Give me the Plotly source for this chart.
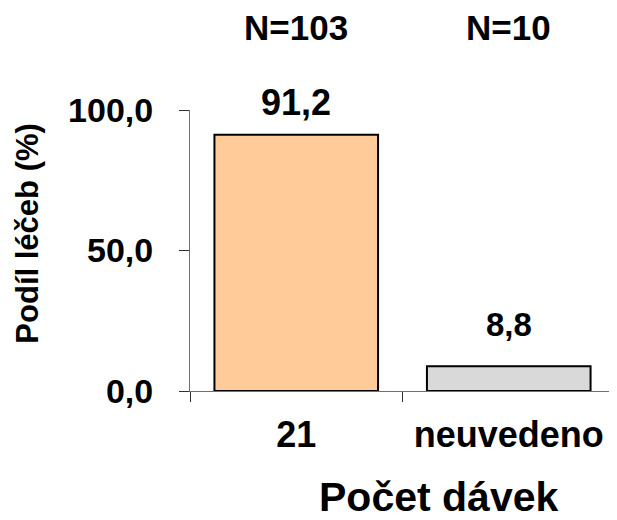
import plotly.graph_objects as go

kategorie = ['21', 'neuvedeno']
podil = [91.2, 8.8]
pocty = ['N=103', 'N=10']
barvy = ['#FFCC99', '#D9D9D9']
y_ticky = [0, 50, 100]

FONT = 'Liberation Sans, Arial, sans-serif'
VEL_POPISKU = [36, 33]   # velikost popisku hodnot
POSUN_POPISKU = [32, 42]  # odsazeni popisku nad sloupcem (px)

fig = go.Figure(go.Bar(
    x=kategorie, y=podil,
    marker=dict(color=barvy, line=dict(color='black', width=2)),
    hoverinfo='skip',
))

# pozice kategorii jako index (retezec '21' by se bral jako cislo)
for i, (v, n) in enumerate(zip(podil, pocty)):
    fig.add_annotation(x=i, y=v, text=f'<b>{str(v).replace(".", ",")}</b>',
                       showarrow=False, yanchor='middle', yshift=POSUN_POPISKU[i],
                       font=dict(size=VEL_POPISKU[i], color='black', family=FONT))
    fig.add_annotation(x=i, y=1, yref='paper', text=f'<b>{n}</b>',
                       showarrow=False, yanchor='middle', yshift=83,
                       font=dict(size=35, color='black', family=FONT))

# titulky os
fig.add_annotation(x=0.585, y=0, xref='paper', yref='paper', text='<b>Počet dávek</b>',
                   showarrow=False, yanchor='middle', yshift=-106,
                   font=dict(size=41, color='black', family=FONT))
fig.add_annotation(x=0, y=0.56, xref='paper', yref='paper', text='<b>Podíl léčeb (%)</b>',
                   showarrow=False, textangle=-90, xanchor='center', yanchor='middle',
                   xshift=-162, font=dict(size=31, color='black', family=FONT))

# stranka ma okraj 8 px, proto jsou okraje posunute
fig.update_layout(
    width=617, height=520,
    margin=dict(l=182, r=10, t=102, b=137),
    plot_bgcolor='white', paper_bgcolor='white',
    bargap=0.23,
    showlegend=False,
    separators=', ',
    font=dict(family=FONT, color='black'),
    xaxis=dict(
        type='category', range=[-0.5, 1.5], automargin=False,
        showline=True, linecolor='#707070', linewidth=1,
        ticks='outside', tickson='boundaries', ticklen=10, tickcolor='#303030',
        tickfont=dict(size=36, weight='bold'), ticklabelstandoff=12,
        showgrid=False,
    ),
    yaxis=dict(
        range=[0, 100], tickvals=y_ticky, tickformat='.1f', automargin=False,
        showline=True, linecolor='#707070', linewidth=1,
        ticks='outside', ticklen=10, tickcolor='#303030',
        tickfont=dict(size=34, weight='bold'), ticklabelstandoff=19,
        showgrid=False, zeroline=False,
    ),
)

fig.write_html('out.html')
